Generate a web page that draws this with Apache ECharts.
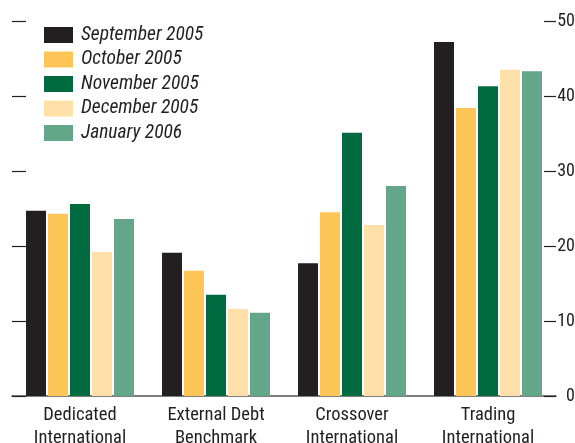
<!DOCTYPE html>
<html><head><meta charset="utf-8">
<script src="https://cdn.jsdelivr.net/npm/echarts@6/dist/echarts.min.js"></script>
<style>html,body{margin:0;padding:0;background:#fff}#c{width:575px;height:443px}</style>
</head><body><div id="c"></div>
<script>
const categories = ['Dedicated\nInternational','External Debt\nBenchmark','Crossover\nInternational','Trading\nInternational'];
const seriesNames = ['September 2005','October 2005','November 2005','December 2005','January 2006'];
const sep2005 = [24.7, 19.1, 17.7, 47.2];
const oct2005 = [24.3, 16.7, 24.5, 38.4];
const nov2005 = [25.6, 13.5, 35.1, 41.3];
const dec2005 = [19.2, 11.6, 22.8, 43.5];
const jan2006 = [23.6, 11.1, 28.0, 43.3];
const yTicks = [0, 10, 20, 30, 40, 50];
const colors = ['#231f20','#fec657','#006a40','#fee0a8','#64a68a'];
const values = [sep2005, oct2005, nov2005, dec2005, jan2006];
const font = "'Liberation Sans Narrow','Arial Narrow','Roboto Condensed',sans-serif";
const chart = echarts.init(document.getElementById('c'));
chart.setOption({
  animation:false,
  textStyle:{fontFamily:font},
  grid:{left:12,right:19,top:21,bottom:47,outerBoundsMode:'none',containLabel:false},
  legend:{orient:'vertical',left:44,top:25,padding:0,itemWidth:29,itemHeight:16,itemGap:4.5,icon:'rect',
    textStyle:{fontFamily:font,fontStyle:'italic',fontSize:19.5,color:'#231f20',padding:[0,0,0,3]},
    data:seriesNames},
  xAxis:{type:'category',data:categories,
    axisLine:{lineStyle:{color:'#555',width:1.5}},
    axisTick:{inside:true,length:7,lineStyle:{color:'#555',width:1.5}},
    axisLabel:{fontFamily:font,fontSize:18.5,color:'#231f20',lineHeight:23,margin:8}},
  yAxis:[
    {type:'value',position:'left',min:yTicks[0],max:yTicks[yTicks.length-1],interval:10,
     axisLine:{show:false},axisTick:{show:true,inside:true,length:14,lineStyle:{color:'#231f20',width:1.2}},
     axisLabel:{show:false},splitLine:{show:false}},
    {type:'value',position:'right',min:yTicks[0],max:yTicks[yTicks.length-1],interval:10,
     axisLine:{show:false},axisTick:{show:true,inside:true,length:12,lineStyle:{color:'#231f20',width:1.2}},
     axisLabel:{fontFamily:font,fontSize:18,color:'#231f20',margin:19,align:'right'},splitLine:{show:false}}
  ],
  series: seriesNames.map((n,i)=>({name:n,type:'bar',data:values[i],barWidth:20,barGap:'10%',
    itemStyle:{color:colors[i]}}))
});
</script></body></html>
